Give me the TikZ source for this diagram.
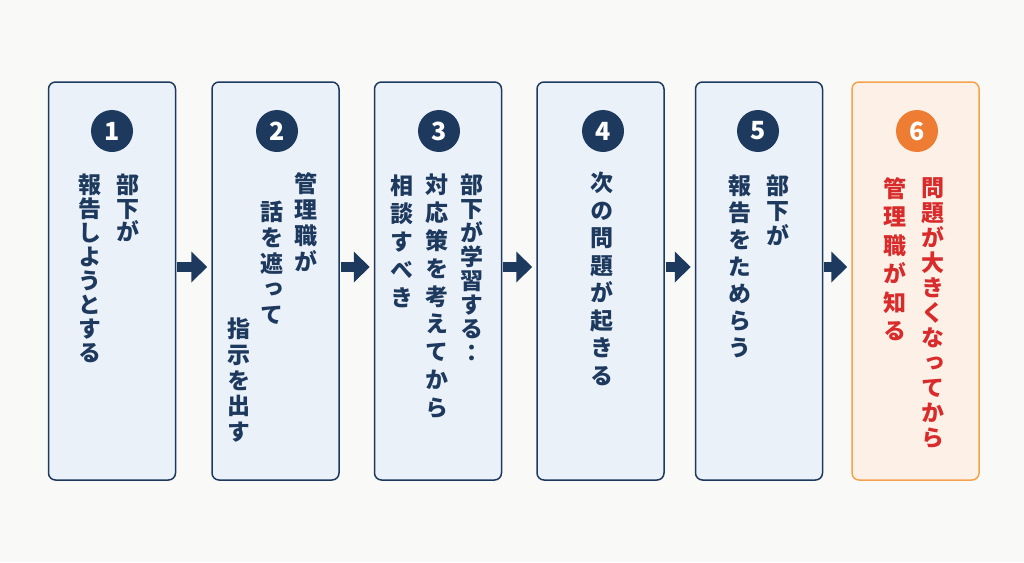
\documentclass[tikz,border=0pt]{standalone}
\usepackage{fontspec}
\setmainfont{Noto Sans CJK JP}
\newfontfamily\tate{Noto Sans CJK JP}[RawFeature=+vert]
\usetikzlibrary{arrows.meta,positioning}
\definecolor{navy}{HTML}{1D3A5E}
\definecolor{boxfill}{HTML}{EBF1F9}
\definecolor{pagebg}{HTML}{F9F9F7}
\definecolor{warnline}{HTML}{F4A24C}
\definecolor{warnfill}{HTML}{FDF1E7}
\definecolor{warnnum}{HTML}{EE7D33}
\definecolor{warntext}{HTML}{D92B2B}

\tikzset{
  stepbox/.style={draw=navy,fill=boxfill,line width=1.5pt,rounded corners=7pt,
    minimum width=127pt,minimum height=398pt,inner sep=0pt},
  num/.style={circle,fill=navy,text=white,minimum size=42pt,inner sep=0pt,
    font=\fontsize{25}{25}\selectfont\bfseries},
  tatecol/.style={anchor=north,inner sep=0pt,align=center,text=navy,
    font=\fontsize{23}{#1}\selectfont\bfseries\tate},
  flow/.style={-{Triangle[length=16pt,width=30pt]},line width=10pt,draw=navy,
    shorten <=1pt,shorten >=4pt},
}

\begin{document}
\begin{tikzpicture}[x=1pt,y=-1pt]
  \fill[pagebg] (0,0) rectangle (1024,562);
  \path[use as bounding box] (0,0) rectangle (1024,562);

  % steps
  \node[stepbox] (b1) at (112,281) {};
  \node[stepbox] (b2) at (275.5,281) {};
  \node[stepbox] (b3) at (438,281) {};
  \node[stepbox] (b4) at (600.5,281) {};
  \node[stepbox] (b5) at (759,281) {};
  \node[stepbox,draw=warnline,fill=warnfill] (b6) at (915.5,281) {};

  \node[num] (n1) at (112,131) {1};
  \node[num] (n2) at (277,131) {2};
  \node[num] (n3) at (439,131) {3};
  \node[num] (n4) at (603,131) {4};
  \node[num] (n5) at (758,131) {5};
  \node[num,fill=warnnum] (n6) at (917,131) {6};

  % vertical text, right column first
  \node[tatecol=23.5] (t1a) at (128,174) {部\\下\\が};
  \node[tatecol=24] (t1b) at (90,174) {報\\告\\し\\よ\\う\\と\\す\\る};

  \node[tatecol=26] (t2a) at (306,172) {管\\理\\職\\が};
  \node[tatecol=25.7] (t2b) at (272,201) {話\\を\\遮\\っ\\て};
  \node[tatecol=25.7] (t2c) at (239,318) {指\\示\\を\\出\\す};

  \node[tatecol=24] (t3a) at (472,174) {部\\下\\が\\学\\習\\す\\る\\{\rmfamily ：}};
  \node[tatecol=27.8] (t3b) at (437,174) {対\\応\\策\\を\\考\\え\\て\\か\\ら};
  \node[tatecol=28] (t3c) at (402,175) {相\\談\\す\\べ\\き};

  \node[tatecol=27.5] (t4a) at (602,172) {次\\の\\問\\題\\が\\起\\き\\る};

  \node[tatecol=25] (t5a) at (778,175) {部\\下\\が};
  \node[tatecol=27] (t5b) at (740,175) {報\\告\\を\\た\\め\\ら\\う};

  \node[tatecol=25,text=warntext] (t6a) at (933,177) {問\\題\\が\\大\\き\\く\\な\\っ\\て\\か\\ら};
  \node[tatecol=28.5,text=warntext] (t6b) at (895,177) {管\\理\\職\\が\\知\\る};

  % arrows
  \foreach \a/\b in {b1/b2,b2/b3,b3/b4,b4/b5,b5/b6}
    \draw[flow] ([yshift=14pt]\a.east) -- ([yshift=14pt]\b.west);
\end{tikzpicture}
\end{document}
